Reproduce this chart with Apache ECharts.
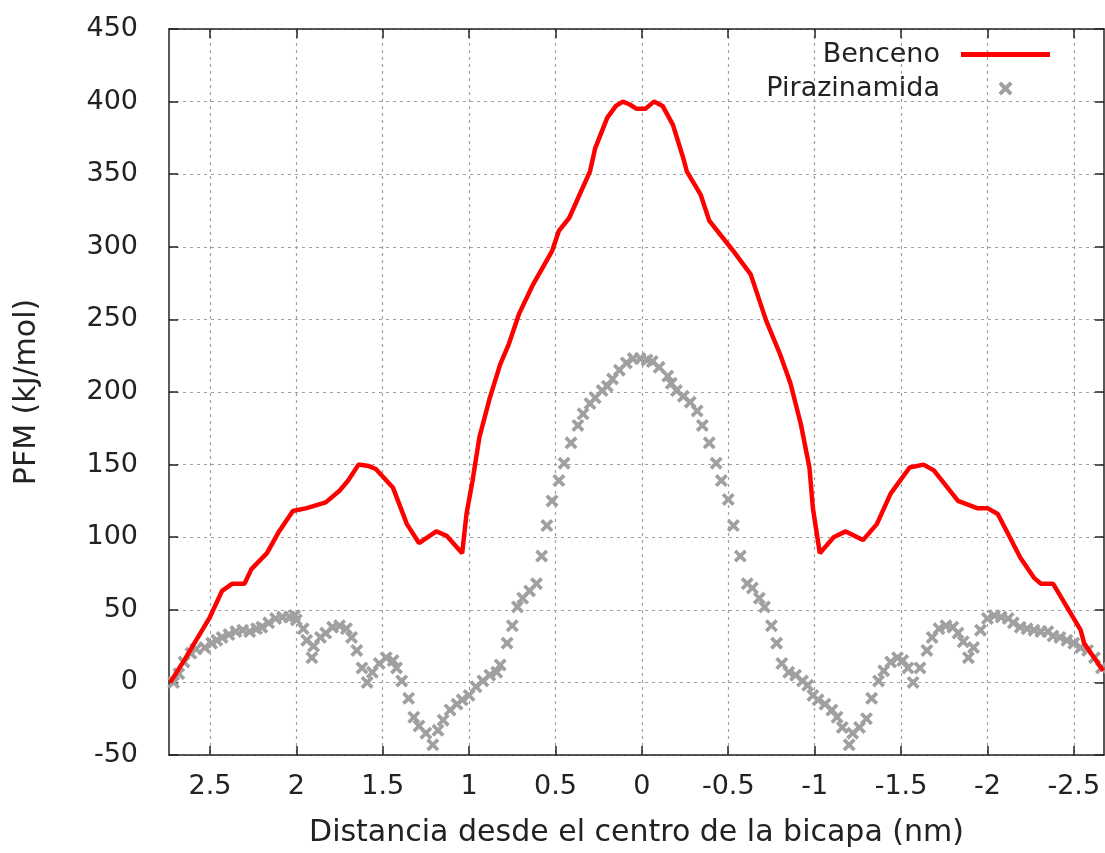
<!DOCTYPE html>
<html>
<head>
<meta charset="utf-8">
<script src="https://cdn.jsdelivr.net/npm/echarts@6/dist/echarts.min.js"></script>
<style>
  html, body { margin: 0; padding: 0; background: #fff; }
  #chart { width: 1105px; height: 853px; }
</style>
</head>
<body>
<div id="chart"></div>
<script>
// tick positions on the distance axis (nm)
const xTicks = [2.5, 2, 1.5, 1, 0.5, 0, -0.5, -1, -1.5, -2, -2.5];

// Benceno: [distance (nm), PFM (kJ/mol)]
const benceno = [
  [2.73, 0], [2.65, 15], [2.57, 31], [2.50, 45], [2.43, 63], [2.37, 68], [2.30, 68],
  [2.26, 78], [2.17, 89], [2.10, 104], [2.02, 118], [1.94, 120], [1.83, 124],
  [1.75, 132], [1.70, 139], [1.64, 150], [1.58, 149], [1.54, 147], [1.44, 134],
  [1.36, 109], [1.29, 96], [1.19, 104], [1.13, 101], [1.04, 89], [1.015, 116],
  [0.98, 139], [0.94, 169], [0.88, 196], [0.82, 219], [0.77, 233], [0.71, 254],
  [0.63, 274], [0.52, 297], [0.48, 311], [0.42, 320], [0.36, 336], [0.30, 352],
  [0.27, 368], [0.20, 389], [0.15, 397], [0.11, 400], [0.07, 398], [0.03, 395],
  [-0.02, 395], [-0.07, 400], [-0.12, 397], [-0.18, 384], [-0.24, 361],
  [-0.26, 352], [-0.34, 336], [-0.39, 318], [-0.45, 309], [-0.53, 297],
  [-0.63, 281], [-0.72, 249], [-0.80, 226], [-0.86, 206], [-0.92, 178],
  [-0.97, 148], [-0.99, 120], [-1.03, 89], [-1.11, 100], [-1.18, 104],
  [-1.28, 98], [-1.36, 109], [-1.44, 130], [-1.55, 148], [-1.63, 150],
  [-1.69, 146], [-1.75, 137], [-1.83, 125], [-1.94, 120], [-2.00, 120],
  [-2.06, 116], [-2.13, 100], [-2.19, 86], [-2.27, 72], [-2.31, 68],
  [-2.38, 68], [-2.46, 52], [-2.54, 36], [-2.56, 27], [-2.67, 8]
];

// Pirazinamida: [distance (nm), PFM (kJ/mol)]
const pirazinamida = [
  [2.71, 0], [2.68, 6], [2.65, 14], [2.61, 20], [2.58, 23], [2.53, 24], [2.49, 27],
  [2.46, 29], [2.43, 31], [2.39, 33], [2.35, 35], [2.31, 36], [2.27, 35], [2.23, 37],
  [2.20, 38], [2.16, 41], [2.12, 44], [2.08, 45], [2.04, 45], [2.01, 46], [2.00, 43],
  [1.96, 37], [1.94, 29], [1.91, 17], [1.90, 25], [1.86, 31], [1.83, 34], [1.79, 38],
  [1.75, 39], [1.71, 37], [1.68, 31], [1.65, 22], [1.62, 10], [1.59, 0], [1.56, 7],
  [1.52, 13], [1.48, 17], [1.44, 15], [1.42, 10], [1.39, 1], [1.35, -11], [1.32, -24],
  [1.29, -30], [1.25, -35], [1.21, -43], [1.18, -33], [1.15, -26], [1.11, -19],
  [1.07, -15], [1.04, -12], [1.00, -9], [0.96, -3], [0.92, 1], [0.88, 5], [0.84, 7],
  [0.82, 12], [0.78, 27], [0.75, 39], [0.72, 52], [0.69, 58], [0.65, 63], [0.61, 68],
  [0.58, 87], [0.55, 108], [0.52, 125], [0.48, 139], [0.45, 151], [0.41, 165],
  [0.37, 177], [0.34, 185], [0.30, 192], [0.27, 196], [0.23, 201], [0.20, 204],
  [0.17, 209], [0.13, 215], [0.09, 220], [0.05, 223], [0.01, 223], [-0.03, 222],
  [-0.06, 221], [-0.10, 217], [-0.15, 211], [-0.17, 206], [-0.20, 201], [-0.24, 197],
  [-0.28, 193], [-0.32, 187], [-0.35, 177], [-0.39, 165], [-0.43, 151], [-0.46, 139],
  [-0.50, 126], [-0.53, 108], [-0.57, 87], [-0.61, 68], [-0.64, 65], [-0.68, 58],
  [-0.71, 52], [-0.75, 39], [-0.78, 27], [-0.81, 13], [-0.85, 7], [-0.89, 5],
  [-0.93, 1], [-0.96, -2], [-0.99, -9], [-1.02, -12], [-1.06, -15], [-1.10, -19],
  [-1.13, -24], [-1.16, -31], [-1.20, -43], [-1.22, -35], [-1.26, -31], [-1.30, -25],
  [-1.33, -11], [-1.37, 1], [-1.40, 8], [-1.44, 14], [-1.48, 17], [-1.51, 15],
  [-1.54, 10], [-1.57, 0], [-1.61, 10], [-1.65, 22], [-1.68, 31], [-1.72, 37],
  [-1.76, 39], [-1.80, 38], [-1.83, 34], [-1.86, 28], [-1.89, 17], [-1.92, 24],
  [-1.96, 36], [-2.00, 44], [-2.04, 46], [-2.08, 45], [-2.12, 44], [-2.15, 41],
  [-2.19, 38], [-2.23, 37], [-2.27, 36], [-2.31, 35], [-2.35, 35], [-2.38, 32],
  [-2.42, 31], [-2.46, 29], [-2.50, 27], [-2.54, 24], [-2.58, 22], [-2.62, 17],
  [-2.66, 10], [-2.68, 0]
];

const font = 'DejaVu Sans';
const fs = 27;       // tick labels and legend
const nameFs = 30;   // axis titles
const txt = '#222';
const axisCol = '#222';
const gridLine = { show: true, lineStyle: { color: '#a0a0a0', width: 1.2, type: [3, 4] } };
// gnuplot style "x" point
const crossPath = 'path://M0,2L2,0L5,3L8,0L10,2L7,5L10,8L8,10L5,7L2,10L0,8L3,5Z';

const chart = echarts.init(document.getElementById('chart'));

const xBase = {
  type: 'value',
  min: -2.675,
  max: 2.737,
  inverse: true,
  axisLine: { show: true, onZero: false, lineStyle: { color: axisCol, width: 1.5 } },
  axisTick: { show: true, inside: true, length: 9, customValues: xTicks, lineStyle: { color: axisCol, width: 1.5 } }
};
const yBase = {
  type: 'value',
  min: -50,
  max: 450,
  interval: 50,
  axisLine: { show: true, onZero: false, lineStyle: { color: axisCol, width: 1.5 } },
  axisTick: { show: true, inside: true, length: 9, lineStyle: { color: axisCol, width: 1.5 } }
};

chart.setOption({
  animation: false,
  grid: { left: 169, right: 1, top: 29, bottom: 97, containLabel: false },
  legend: {
    orient: 'vertical',
    align: 'right',
    right: 50,
    top: 36,
    itemWidth: 89,
    itemHeight: 14,
    itemGap: 7,
    textStyle: { fontFamily: font, fontSize: fs, color: txt, padding: [0, 16, 0, 0] },
    data: [
      { name: 'Benceno', icon: 'path://M0,0H90V5H0Z' },
      { name: 'Pirazinamida' }
    ]
  },
  xAxis: [
    Object.assign({}, xBase, {
      position: 'bottom',
      name: 'Distancia desde el centro de la bicapa (nm)',
      nameLocation: 'middle',
      nameGap: 63,
      nameTextStyle: { fontFamily: font, fontSize: nameFs, color: txt },
      axisLabel: { customValues: xTicks, margin: 18, fontFamily: font, fontSize: fs, color: txt },
      splitLine: gridLine
    }),
    Object.assign({}, xBase, {
      position: 'top',
      axisLabel: { show: false },
      splitLine: { show: false }
    })
  ],
  yAxis: [
    Object.assign({}, yBase, {
      position: 'left',
      name: 'PFM (kJ/mol)',
      nameLocation: 'middle',
      nameGap: 127,
      nameTextStyle: { fontFamily: font, fontSize: nameFs, color: txt },
      axisLabel: { margin: 31, fontFamily: font, fontSize: fs, color: txt },
      splitLine: gridLine
    }),
    Object.assign({}, yBase, {
      position: 'right',
      axisLabel: { show: false },
      splitLine: { show: false }
    })
  ],
  series: [
    {
      name: 'Benceno',
      type: 'line',
      data: benceno,
      showSymbol: false,
      symbol: 'none',
      z: 3,
      lineStyle: { color: '#ff0000', width: 4.5 },
      itemStyle: { color: '#ff0000' }
    },
    {
      name: 'Pirazinamida',
      type: 'scatter',
      data: pirazinamida,
      symbol: crossPath,
      symbolSize: 13,
      z: 2,
      itemStyle: { color: '#a0a0a0', opacity: 1 }
    }
  ]
});
</script>
</body>
</html>
